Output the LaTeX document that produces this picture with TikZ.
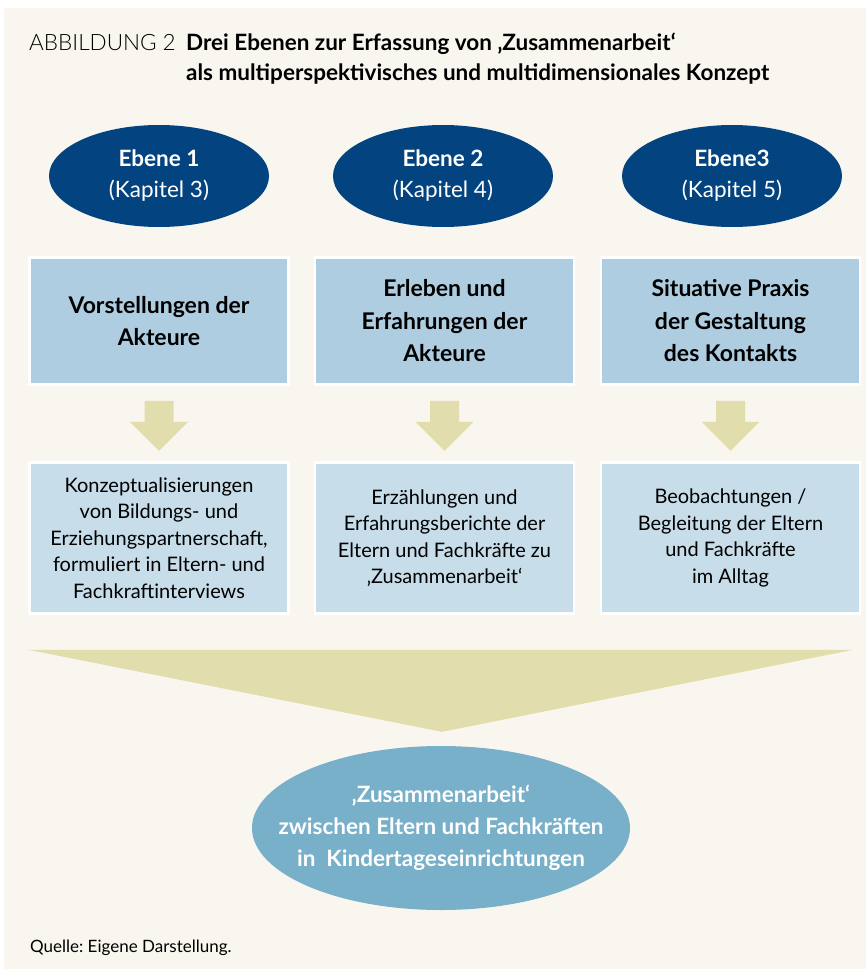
\documentclass[tikz,border=0pt]{standalone}
\usepackage{fontspec}
\setmainfont{Lato}
\newfontfamily\latolight{Lato Light}
\usepackage{tikz}
\usetikzlibrary{positioning,shapes.geometric,calc}
\definecolor{pagebg}{RGB}{248,246,238}
\definecolor{ebeneblue}{RGB}{3,67,128}
\definecolor{boxblue}{RGB}{175,205,224}
\definecolor{boxlight}{RGB}{200,221,234}
\definecolor{arrowsand}{RGB}{226,221,172}
\definecolor{zusblue}{RGB}{120,175,201}
\frenchspacing

\begin{document}
\begin{tikzpicture}[x=1pt, y=-1pt,
  ebene/.style={ellipse, fill=ebeneblue, text=white, inner sep=0pt,
    minimum width=220pt, minimum height=102pt, align=center,
    font=\fontsize{22.5}{31}\selectfont},
  topbox/.style={rectangle, fill=boxblue, draw=white, line width=2.5pt,
    minimum width=259pt, minimum height=127pt, align=center,
    font=\fontsize{23}{32.5}\selectfont\bfseries},
  lowbox/.style={rectangle, fill=boxlight, draw=white, line width=2.5pt,
    minimum width=259pt, minimum height=151pt, align=center,
    font=\fontsize{20}{26.5}\selectfont},
  blockarrow/.style={fill=arrowsand},
  titletext/.style={anchor=base west, inner sep=0pt,
    font=\fontsize{22.5}{30}\selectfont\bfseries}]
  \useasboundingbox (0,0) rectangle (866,969);
  \fill[white] (0,0) rectangle (866,969);
  \fill[pagebg] (4,8) rectangle (866,969);
  % ---- title ----
  \node[anchor=base west, inner sep=0pt, font=\latolight\fontsize{22.5}{25}\selectfont]
    (abb) at (29,50) {ABBILDUNG 2};
  \node[titletext] (title1) at (186,50) {Drei Ebenen zur Erfassung von ‚Zusammenarbeit‘};
  \node[titletext] (title2) at ($(title1.base west)+(0,30)$)
    {als multiperspektivisches und multidimensionales Konzept};
  % ---- three levels ----
  \node[ebene] (eb1) at (159,176) {\textbf{Ebene 1}\\(Kapitel 3)};
  \node[ebene] (eb2) at (443,176) {\textbf{Ebene 2}\\(Kapitel 4)};
  \node[ebene] (eb3) at (732,176) {\textbf{Ebene3}\\(Kapitel 5)};
  % boxes below the ellipses
  \node[topbox] (top1) at (159,321) {Vorstellungen der\\Akteure};
  \node[topbox] (top2) at (444.5,321) {Erleben und\\Erfahrungen der\\Akteure};
  \node[topbox] (top3) at (730.5,321) {Situative Praxis\\der Gestaltung\\des Kontakts};
  \node[lowbox] (low1) at (159,538) {Konzeptualisierungen\\von Bildungs- und\\
    Erziehungspartnerschaft,\\formuliert in Eltern- und\\Fachkraftinterviews};
  \node[lowbox] (low2) at (444.5,538) {Erzählungen und\\Erfahrungsberichte der\\
    Eltern und Fachkräfte zu\\‚Zusammenarbeit‘};
  \node[lowbox] (low3) at (730.5,538) {Beobachtungen /\\Begleitung der Eltern\\
    und Fachkräfte\\im Alltag};
  % block arrows between the boxes
  \foreach \i in {1,2,3}
    \fill[blockarrow] ($(top\i.south)+(-14.5,15)$) -- ($(top\i.south)+(14.5,15)$)
      -- ($(top\i.south)+(14.5,36)$) -- ($(top\i.south)+(29,36)$)
      -- ($(top\i.south)+(0,65)$) -- ($(top\i.south)+(-29,36)$)
      -- ($(top\i.south)+(-14.5,36)$) -- cycle;
  % ---- result ----
  \node[ellipse, fill=zusblue, text=white, inner xsep=-32pt, inner ysep=0pt,
    minimum width=378pt, minimum height=164pt, align=center,
    font=\fontsize{22.5}{32}\selectfont\bfseries]
    (zus) at (441,828) {‚Zusammenarbeit‘\\zwischen Eltern und Fachkräften\\
    in\ \ Kindertageseinrichtungen};
  \fill[blockarrow] ($(low1.south west)+(0,35)$) -- ($(low3.south east)+(-8,35)$)
    -- ($(zus.north)+(1,-14)$) -- cycle;
  \node[anchor=base west, inner sep=0pt, font=\fontsize{17}{20}\selectfont]
    (quelle) at (30,952) {Quelle: Eigene Darstellung.};
\end{tikzpicture}
\end{document}
